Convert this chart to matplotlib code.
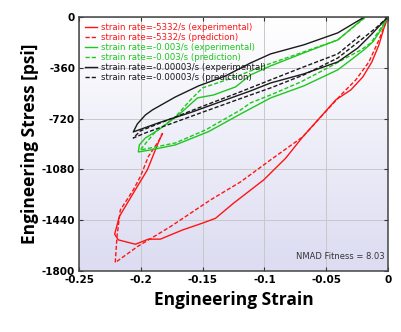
import matplotlib
matplotlib.use("Agg")
import matplotlib.pyplot as plt
import numpy as np
from matplotlib.colors import LinearSegmentedColormap

plt.rcParams['axes.unicode_minus'] = False

# strain / stress [psi]
red_exp_strain = [0, -0.0032, -0.0073, -0.0130, -0.0203, -0.0300, -0.0422, -0.0690, -0.0828,
                  -0.1006, -0.1250, -0.1396, -0.1504, -0.1664, -0.1843, -0.1940, -0.2045,
                  -0.2183, -0.2213, -0.2175, -0.2062, -0.1948, -0.1851, -0.1826]
red_exp_stress = [0, -78, -198, -319, -425, -517, -588, -850, -1001,
                  -1155, -1320, -1427, -1462, -1510, -1575, -1575, -1611,
                  -1580, -1540, -1415, -1249, -1084, -872, -829]

red_pred_strain = [0, -0.0073, -0.0154, -0.0260, -0.0381, -0.0690, -0.0950, -0.1193, -0.1437,
                   -0.1761, -0.2029, -0.2208, -0.2194, -0.2167, -0.2062, -0.2005, -0.1940,
                   -0.1851, -0.1826]
red_pred_stress = [0, -163, -319, -446, -553, -850, -1013, -1169, -1297,
                   -1486, -1628, -1741, -1557, -1368, -1226, -1132, -990,
                   -872, -822]

green_exp_strain = [0, -0.0057, -0.0122, -0.0195, -0.0300, -0.0406, -0.0544, -0.0682, -0.0950,
                    -0.1031, -0.1177, -0.1453, -0.1721, -0.1924, -0.2021,
                    -0.2013, -0.1964, -0.1859, -0.1696, -0.1542, -0.1412, -0.1234, -0.1112,
                    -0.0950, -0.0682, -0.0406, -0.0195]
green_exp_stress = [0, -92, -177, -234, -305, -375, -432, -489, -574,
                    -612, -680, -813, -907, -943, -957,
                    -907, -858, -801, -695, -574, -553, -496, -411,
                    -347, -255, -163, -7]

green_pred_strain = [0, -0.0057, -0.0138, -0.0219, -0.0341, -0.0487, -0.0706, -0.0950, -0.1112,
                     -0.1193, -0.1477, -0.1721, -0.2005,
                     -0.1940, -0.1883, -0.1721, -0.1599, -0.1502, -0.1234, -0.1031,
                     -0.0682, -0.0406, -0.0179]
green_pred_stress = [0, -78, -184, -234, -291, -361, -461, -553, -609,
                     -659, -801, -893, -943,
                     -872, -815, -709, -588, -503, -425, -354,
                     -248, -163, 0]

black_exp_strain = [0, -0.0138, -0.0244, -0.0406, -0.0682, -0.0950, -0.1112, -0.1315, -0.1583,
                    -0.1859, -0.2062,
                    -0.2029, -0.1964, -0.1907, -0.1721, -0.1534, -0.1315, -0.1112, -0.0950,
                    -0.0682, -0.0406, -0.0203]
black_exp_stress = [0, -128, -220, -319, -404, -468, -524, -588, -673,
                    -751, -815,
                    -758, -695, -659, -567, -489, -418, -326, -262,
                    -198, -113, -7]

black_pred_strain = [0, -0.0097, -0.0219, -0.0406, -0.0682, -0.0950, -0.1112, -0.1494, -0.1761,
                     -0.1964, -0.2062,
                     -0.2005, -0.1761, -0.1494, -0.1218, -0.0950, -0.0682, -0.0406, -0.0219]
black_pred_stress = [0, -78, -163, -291, -411, -503, -553, -673, -758,
                     -822, -858,
                     -808, -723, -631, -539, -446, -354, -262, -128]

xticks = [-0.25, -0.2, -0.15, -0.1, -0.05, 0]
xticklabels = ['-0.25', '-0.2', '-0.15', '-0.1', '-0.05', '0']
yticks = [0, -360, -720, -1080, -1440, -1800]

RED = '#ff1414'
GREEN = '#1ec81e'
BLACK = '#1a1a1a'

fig = plt.figure(figsize=(4.02, 3.32), dpi=100)
ax = fig.add_axes([0.197, 0.184, 0.768, 0.765])

# light gradient behind the plot
grad = np.linspace(0, 1, 256).reshape(-1, 1)
cmap = LinearSegmentedColormap.from_list('bg', ['#ffffff', '#dcdcf2'])
ax.imshow(grad, extent=[-0.25, 0, -1800, 0], aspect='auto', cmap=cmap,
          origin='upper', zorder=0)

ax.grid(True, color='#c8c8c8', linewidth=0.7, zorder=1)
ax.set_axisbelow(True)

lw = 1.0
ax.plot(red_exp_strain, red_exp_stress, color=RED, lw=lw, label='strain rate=-5332/s (experimental)')
ax.plot(red_pred_strain, red_pred_stress, color=RED, lw=lw, ls=(0, (3, 1.5)), label='strain rate=-5332/s (prediction)')
ax.plot(green_exp_strain, green_exp_stress, color=GREEN, lw=lw, label='strain rate=-0.003/s (experimental)')
ax.plot(green_pred_strain, green_pred_stress, color=GREEN, lw=lw, ls=(0, (3, 1.5)), label='strain rate=-0.003/s (prediction)')
ax.plot(black_exp_strain, black_exp_stress, color=BLACK, lw=lw, label='strain rate=-0.00003/s (experimental)')
ax.plot(black_pred_strain, black_pred_stress, color=BLACK, lw=lw, ls=(0, (3, 1.5)), label='strain rate=-0.00003/s (prediction)')

ax.set_xlim(-0.25, 0)
ax.set_ylim(-1800, 0)
ax.set_xticks(xticks)
ax.set_xticklabels(xticklabels)
ax.set_yticks(yticks)
ax.set_yticklabels([str(v) for v in yticks])
ax.tick_params(direction='in', length=3, width=0.8, top=True, right=True,
               labelsize=7.5, pad=3, color='#333333')
for lab in ax.get_xticklabels() + ax.get_yticklabels():
    lab.set_fontweight('bold')
for sp in ax.spines.values():
    sp.set_color('#444444')
    sp.set_linewidth(1.1)

ax.set_xlabel('Engineering Strain', fontsize=12.5, fontweight='bold', family='Open Sans', labelpad=4)
ax.set_ylabel('Engineering Stress [psi]', fontsize=12.5, fontweight='bold', family='Open Sans', labelpad=2)

leg = ax.legend(loc='upper left', frameon=False,
                prop={'family': ['Liberation Sans Narrow', 'DejaVu Sans'], 'size': 6.2},
                handlelength=1.4, handletextpad=0.4, labelspacing=0.12,
                borderaxespad=0.3)
for txt, line in zip(leg.get_texts(), leg.get_lines()):
    txt.set_color(line.get_color())

ax.text(-0.003, -1700, 'NMAD Fitness = 8.03', fontsize=6, color='#333333',
        ha='right', va='center', family=['Liberation Sans Narrow', 'DejaVu Sans'])

fig.savefig('out.png', dpi=100)
